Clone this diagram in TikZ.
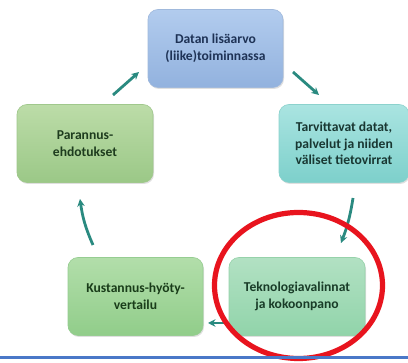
\documentclass[tikz,border=0pt]{standalone}
\usepackage{fontspec}
\setmainfont{Carlito}
\usetikzlibrary{arrows.meta,shapes.geometric,shadows}
\definecolor{arr}{HTML}{2A8A80}
\definecolor{redc}{HTML}{E8141E}
\definecolor{bluel}{HTML}{4A78C8}
\definecolor{tD}{RGB}{160,185,220}\definecolor{tT}{RGB}{178,204,238}\definecolor{tB}{RGB}{146,178,222}\definecolor{tX}{RGB}{30,50,85}
\definecolor{rD}{RGB}{140,210,205}\definecolor{rT}{RGB}{170,228,225}\definecolor{rB}{RGB}{125,208,203}\definecolor{rX}{RGB}{25,55,50}
\definecolor{lD}{RGB}{160,200,140}\definecolor{lT}{RGB}{188,220,168}\definecolor{lB}{RGB}{155,200,135}\definecolor{lX}{RGB}{30,60,30}
\definecolor{bD}{RGB}{150,205,145}\definecolor{bT}{RGB}{178,222,170}\definecolor{bB}{RGB}{145,205,138}\definecolor{bX}{RGB}{25,60,25}
\definecolor{kD}{RGB}{150,210,170}\definecolor{kT}{RGB}{178,225,195}\definecolor{kB}{RGB}{145,212,170}\definecolor{kX}{RGB}{25,60,40}
\tikzset{
  box/.style={draw, line width=0.6pt, rounded corners=10pt, minimum width=135pt, minimum height=78pt,
    align=center, font=\bfseries\fontsize{13.6}{16.5}\selectfont, inner sep=2pt,
    drop shadow={shadow xshift=1pt, shadow yshift=-1.5pt, opacity=0.25}},
  conn/.style={draw=arr, line width=2.8pt, -{Stealth[length=7.5pt,width=7.5pt]}},
}
\begin{document}
\begin{tikzpicture}[x=1pt,y=-1pt]
\useasboundingbox (0,0) rectangle (408,363);
\fill[white] (0,0) rectangle (408,363);
\node[box, draw=tD, top color=tT, bottom color=tB, text=tX] (top) at (215.5,48.5) {Datan lisäarvo\\(liike)toiminnassa};
\node[box, minimum width=130pt, draw=rD, top color=rT, bottom color=rB, text=rX] (right) at (344,143.5) {Tarvittavat datat,\\palvelut ja niiden\\väliset tietovirrat};
\node[box, minimum width=136pt, draw=lD, top color=lT, bottom color=lB, text=lX] (left) at (85,143.5) {Parannus-\\ehdotukset};
\node[box, draw=bD, top color=bT, bottom color=bB, text=bX] (bl) at (135.5,296.5) {Kustannus-hyöty-\\vertailu};
\node[box, minimum width=136pt, draw=kD, top color=kT, bottom color=kB, text=kX] (br) at (297,296.5) {Teknologiavalinnat\\ja kokoonpano};
% connector end points
\coordinate (a1) at (293,72);
\coordinate (a2) at (319,95);
\coordinate (b1) at (353,198);
\coordinate (b2) at (341,243);
\coordinate (c1) at (225,323);
\coordinate (c2) at (208,323);
\coordinate (d1) at (93,245);
\coordinate (d2) at (80,199);
\coordinate (e1) at (113,95);
\coordinate (e2) at (139,72);
\draw[conn] (a1) -- (a2);
\draw[conn] (b1) to[bend left=6] (b2);
\draw[conn] (c1) -- (c2);
\draw[conn] (d1) to[bend left=8] (d2);
\draw[conn] (e1) -- (e2);
% red ellipse
\node[draw=redc, line width=5.2pt, ellipse, minimum width=168pt, minimum height=146pt, inner sep=0pt] (ring) at (298.5,285.5) {};
% blue line
\coordinate (l1) at (0,358);
\coordinate (l2) at (408,358);
\draw[bluel, line width=3pt] (l1) -- (l2);
\end{tikzpicture}
\end{document}
